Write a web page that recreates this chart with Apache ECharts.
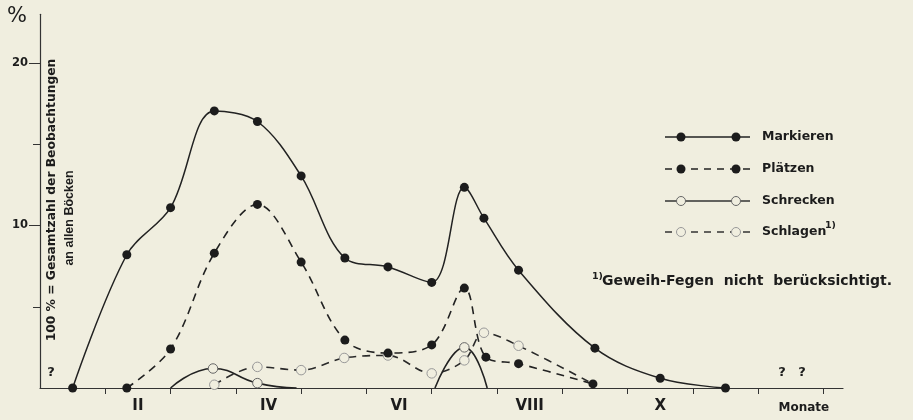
<!DOCTYPE html>
<html><head><meta charset="utf-8">
<script src="https://cdn.jsdelivr.net/npm/echarts@6/dist/echarts.min.js"></script>
<style>html,body{margin:0;padding:0;background:#f0eedf}#c{width:913px;height:420px}</style>
</head><body><div id="c"></div>
<script>
// ---- data (x = month position, 0 = start of January; y = percent) ----
const markierenMonth = [0.5, 1.33, 2.0, 2.67, 3.33, 4.0, 4.67, 5.33, 6.0, 6.5, 6.8, 7.33, 8.5, 9.5, 10.5];
const markierenValue = [0, 8.2, 11.1, 17.05, 16.4, 13.05, 8.0, 7.45, 6.5, 12.35, 10.45, 7.25, 2.45, 0.6, 0];
const plaetzenMonth = [1.33, 2.0, 2.67, 3.33, 4.0, 4.67, 5.33, 6.0, 6.5, 6.83, 7.33, 8.47];
const plaetzenValue = [0, 2.4, 8.3, 11.3, 7.75, 2.95, 2.15, 2.65, 6.15, 1.9, 1.5, 0.25];
const schreckenAprMonth = [2.0, 2.65, 3.33, 3.93];
const schreckenAprValue = [0, 1.2, 0.3, 0];
const schreckenJulMonth = [6.05, 6.5, 6.85];
const schreckenJulValue = [0, 2.5, 0];
const schlagenMonth = [2.67, 3.33, 4.0, 4.66, 5.33, 6.0, 6.5, 6.8, 7.33, 8.47];
const schlagenValue = [0.2, 1.3, 1.1, 1.85, 2.0, 0.9, 1.7, 3.4, 2.6, 0.25];
const monthTicks = [1, 2, 3, 4, 5, 6, 7, 8, 9, 10, 11, 12];
const monthLabelPos = [1.5, 3.5, 5.5, 7.5, 9.5, 11.7];
const monthLabels = ['II', 'IV', 'VI', 'VIII', 'X', 'Monate'];
const yMajorTicks = [10, 20];
const yMinorTicks = [5, 15];
const seriesNames = ['Markieren', 'Plätzen', 'Schrecken', 'Schlagen'];
const footnote = 'Geweih-Fegen  nicht  berücksichtigt.';

// ---- styles ----
const BG = '#f0eedf', INK = '#1c1c1c';
const FONT = '"DejaVu Sans", sans-serif';
const pairs = (xs, ys) => xs.map((x, i) => [x, ys[i]]);
const filledItem = { color: INK, borderWidth: 0 };
const openItem = (c) => ({ color: BG, borderColor: c, borderWidth: 1 });

const chart = echarts.init(document.getElementById('c'), null, { renderer: 'canvas' });

function schreckenData(xs, ys) {
  return pairs(xs, ys).map(p => p[1] === 0 ? { value: p, symbol: 'none' } : p);
}
const schlagenData = pairs(schlagenMonth, schlagenValue).map((p, i, a) => i === a.length - 1 ? { value: p, symbol: 'none' } : p);

// legend drawn as graphic
const legendY = [137, 169, 201, 232];
const legendStyle = [
  { dash: null, filled: true, stroke: '#222' },
  { dash: [7, 6], filled: true, stroke: '#222' },
  { dash: null, filled: false, stroke: '#333', circ: '#666' },
  { dash: [7, 6], filled: false, stroke: '#333', circ: '#999' }
];
const legendGraphics = [];
seriesNames.forEach((n, i) => {
  const y = legendY[i], s = legendStyle[i];
  legendGraphics.push({ type: 'line', shape: { x1: 665, y1: y, x2: 750, y2: y },
    style: { stroke: s.stroke, lineWidth: 1.5, lineDash: s.dash || null }, z: 10 });
  [681, 736].forEach(cx => legendGraphics.push({ type: 'circle', shape: { cx: cx, cy: y, r: 4.5 },
    style: s.filled ? { fill: INK } : { fill: BG, stroke: s.circ, lineWidth: 1 }, z: 11 }));
  legendGraphics.push({ type: 'text', x: 762, y: y, z: 11,
    style: { text: n, fill: INK, font: 'bold 12.5px ' + FONT, verticalAlign: 'middle', align: 'left' } });
});
legendGraphics.push({ type: 'text', x: 825, y: 226, z: 11,
  style: { text: '1)', fill: INK, font: 'bold 9.5px ' + FONT, verticalAlign: 'middle' } });

const option = {
  backgroundColor: BG,
  animation: false,
  grid: { left: 40, right: 70, top: 14.25, bottom: 32 },
  xAxis: {
    type: 'value', min: 0, max: 12.3,
    axisLine: { show: true, lineStyle: { color: '#333', width: 1.2 } },
    axisTick: { show: true, customValues: monthTicks, length: 6, inside: false, lineStyle: { color: '#333', width: 1 } },
    splitLine: { show: false },
    axisLabel: {
      customValues: monthLabelPos, margin: 11, color: INK,
      fontFamily: FONT, fontWeight: 'bold', fontSize: 15,
      formatter: function (v) {
        let idx = monthLabelPos.findIndex(p => Math.abs(p - v) < 1e-6);
        if (idx < 0) return '';
        const t = monthLabels[idx];
        return t === 'Monate' ? '{m|' + t + '}' : t;
      },
      rich: { m: { fontSize: 12, fontWeight: 'bold', fontFamily: FONT, color: INK, padding: [3, 0, 0, 0] } }
    }
  },
  yAxis: [{
    type: 'value', min: 0, max: 23, position: 'left',
    axisLine: { show: true, lineStyle: { color: '#333', width: 1.2 } },
    axisTick: { show: true, customValues: yMajorTicks, length: 11, lineStyle: { color: '#333' } },
    splitLine: { show: false },
    axisLabel: { customValues: yMajorTicks, margin: 12, color: INK, fontFamily: FONT, fontWeight: 'bold', fontSize: 11.5 }
  }, {
    type: 'value', min: 0, max: 23, position: 'left',
    axisLine: { show: false },
    axisTick: { show: true, customValues: yMinorTicks, length: 7, lineStyle: { color: '#333' } },
    splitLine: { show: false },
    axisLabel: { show: false }
  }],
  series: [
    { name: 'Schlagen', type: 'line', data: schlagenData, smooth: 0.35,
      symbol: 'circle', symbolSize: 9.5, lineStyle: { color: '#2a2a2a', width: 1.6, type: [8, 6] },
      itemStyle: openItem('#999'), z: 2 },
    { name: 'Schrecken', type: 'line', data: schreckenData(schreckenAprMonth, schreckenAprValue), smooth: 0.5,
      symbol: 'circle', symbolSize: 9.5, lineStyle: { color: '#222', width: 1.6 },
      itemStyle: openItem('#666'), z: 3 },
    { name: 'Schrecken', type: 'line', data: schreckenData(schreckenJulMonth, schreckenJulValue), smooth: 0.5,
      symbol: 'circle', symbolSize: 9.5, lineStyle: { color: '#222', width: 1.6 },
      itemStyle: openItem('#666'), z: 3 },
    { name: 'Plätzen', type: 'line', data: pairs(plaetzenMonth, plaetzenValue), smooth: 0.35,
      symbol: 'circle', symbolSize: 9, lineStyle: { color: '#222', width: 1.6, type: [8, 6] },
      itemStyle: filledItem, z: 4 },
    { name: 'Markieren', type: 'line', data: pairs(markierenMonth, markierenValue), smooth: 0.35,
      symbol: 'circle', symbolSize: 9, lineStyle: { color: '#222', width: 1.5 },
      itemStyle: filledItem, z: 5 }
  ],
  graphic: [
    { type: 'text', x: 17, y: 17, style: { text: '%', fill: INK, font: '21px ' + FONT, align: 'center', verticalAlign: 'middle' } },
    { type: 'text', x: 52, y: 200, rotation: Math.PI / 2,
      style: { text: '100 % = Gesamtzahl der Beobachtungen', fill: INK, font: 'bold 12.3px ' + FONT, align: 'center', verticalAlign: 'middle' } },
    { type: 'text', x: 70, y: 218, rotation: Math.PI / 2,
      style: { text: 'an allen Böcken', fill: INK, font: 'bold 12.5px "Liberation Sans", sans-serif', align: 'center', verticalAlign: 'middle' } },
    { type: 'text', x: 51, y: 373, style: { text: '?', fill: INK, font: 'bold 13px ' + FONT, align: 'center', verticalAlign: 'middle' } },
    { type: 'text', x: 782, y: 373, style: { text: '?', fill: INK, font: 'bold 13px ' + FONT, align: 'center', verticalAlign: 'middle' } },
    { type: 'text', x: 802, y: 373, style: { text: '?', fill: INK, font: 'bold 13px ' + FONT, align: 'center', verticalAlign: 'middle' } },
    { type: 'text', x: 592, y: 277, style: { text: '1)', fill: INK, font: 'bold 9.5px ' + FONT, verticalAlign: 'middle' } },
    { type: 'text', x: 602, y: 281, style: { text: footnote, fill: INK, font: 'bold 14px ' + FONT, verticalAlign: 'middle' } }
  ].concat(legendGraphics)
};
chart.setOption(option);
</script></body></html>
